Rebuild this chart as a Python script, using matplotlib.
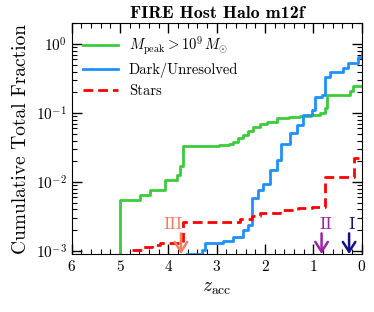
import matplotlib
matplotlib.use("Agg")
import matplotlib.pyplot as plt
from matplotlib.ticker import MultipleLocator

# cumulative fraction vs accretion redshift
z_mpeak = [5.0, 5.0, 4.59, 4.38, 4.07, 3.83, 3.76, 3.69, 3.2, 2.95, 2.75, 2.66, 2.55, 2.45, 2.35, 2.25,
           2.10, 1.95, 1.76, 1.5, 1.28, 1.05, 0.86, 0.76, 0.72, 0.24, 0.17, 0.14, 0.0]
f_mpeak = [9.0e-4, 0.0055, 0.0065, 0.0077, 0.0107, 0.0126, 0.017, 0.033, 0.0335, 0.034, 0.036, 0.038,
           0.043, 0.048, 0.055, 0.063, 0.069, 0.075, 0.084, 0.088, 0.091, 0.095, 0.1, 0.118, 0.186,
           0.21, 0.25, 0.25, 0.25]

z_dark = [3.62, 3.30, 3.24, 2.87, 2.66, 2.45, 2.35, 2.26, 2.14, 2.04, 1.90, 1.76, 1.66, 1.48, 1.34,
          1.21, 1.03, 0.97, 0.83, 0.76, 0.66, 0.38, 0.28, 0.07, 0.0]
f_dark = [9.1e-4, 0.00105, 0.0013, 0.0014, 0.0016, 0.0020, 0.0024, 0.0058, 0.0076, 0.0095, 0.0148,
          0.021, 0.036, 0.051, 0.068, 0.093, 0.11, 0.173, 0.18, 0.336, 0.40, 0.45, 0.53, 0.66, 0.74]

z_stars = [4.76, 4.55, 4.35, 4.17, 3.69, 2.52, 2.28, 2.10, 1.69, 1.31, 1.03, 0.76, 0.16, 0.0]
f_stars = [0.00103, 0.00115, 0.00122, 0.00129, 0.00266, 0.0029, 0.0032, 0.0036, 0.0039, 0.0042,
           0.0044, 0.0120, 0.022, 0.022]

# marked epochs (arrows along the bottom) and where their labels sit
mark_z = [3.74, 0.83, 0.26]
mark_label_z = [3.91, 0.73, 0.21]
mark_labels = ["III", "II", "I"]
mark_colors = ["#f08060", "#a020a8", "#10108a"]

plt.rcParams["font.family"] = "cmr10"
plt.rcParams["mathtext.fontset"] = "cm"
plt.rcParams["axes.formatter.use_mathtext"] = True

fig = plt.figure(figsize=(3.74, 3.12), dpi=100)
ax = fig.add_axes([0.192, 0.186, 0.775, 0.739])

ax.step(z_mpeak, f_mpeak, where="post", color="#3bcc3b", lw=2, label=r"$M_{\rm peak} > 10^9\,M_{\odot}$")
ax.step(z_dark, f_dark, where="post", color="#1e90ff", lw=2, label="Dark/Unresolved")
ax.step(z_stars, f_stars, where="post", color="red", lw=2, ls=(0, (3.5, 1.8)), label="Stars")

for zm, zl, lab, col in zip(mark_z, mark_label_z, mark_labels, mark_colors):
    ax.annotate("", xy=(zm, 9.05e-4), xytext=(zm, 1.8e-3),
                arrowprops=dict(arrowstyle="->,head_width=0.45,head_length=0.7", color=col, lw=1.8,
                                shrinkA=0, shrinkB=0))
    ax.text(zl, 2.45e-3, lab, color=col, ha="center", va="center", fontsize=13)

ax.set_yscale("log")
ax.set_xlim(6, 0)
ax.set_ylim(9.05e-4, 2.0)
ax.xaxis.set_major_locator(MultipleLocator(1))
ax.xaxis.set_minor_locator(MultipleLocator(0.2))
ax.tick_params(which="both", direction="in", top=True, right=True, labelsize=11)
ax.tick_params(which="major", length=7, width=1)
ax.tick_params(which="minor", length=3.5, width=0.8)

ax.set_xlabel(r"$z_{\rm acc}$", fontsize=14)
ax.set_ylabel("Cumulative Total Fraction", fontsize=14)
ax.set_title("FIRE Host Halo m12f", fontfamily="cmb10", fontsize=13, pad=4)

ax.legend(loc="upper left", frameon=False, fontsize=10.5, handlelength=2.35, handletextpad=0.75,
          borderaxespad=0.3, borderpad=0.5, labelspacing=0.38)

fig.savefig("out.png", dpi=100)
